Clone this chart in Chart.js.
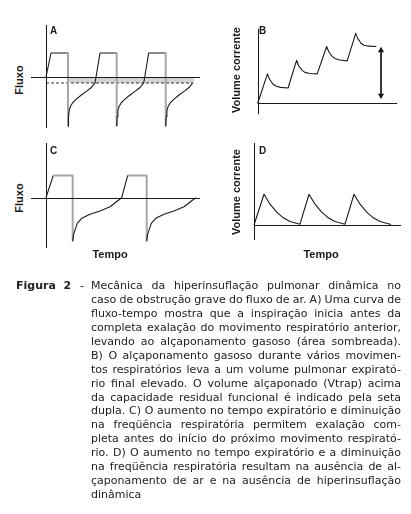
<!DOCTYPE html>
<html>
<head>
<meta charset="utf-8">
<script src="https://cdn.jsdelivr.net/npm/chart.js@4.4.0/dist/chart.umd.min.js"></script>
<style>
  body { margin: 0; background: #fff; }
  #page { position: relative; width: 411px; height: 514px; overflow: hidden; color: #1a1a1a;
          font-family: "Liberation Sans", Arial, sans-serif; }
  canvas { position: absolute; }
  .tag { position: absolute; font-weight: bold; font-size: 10px; line-height: 10px; }
  .ytitle, .xtitle { position: absolute; font-weight: bold; font-size: 11px; white-space: nowrap; }
  .ytitle { transform: translate(-50%, -50%) rotate(-90deg); }
  .xtitle { transform: translate(-50%, -50%); }
  #caption { position: absolute; left: 0; top: 279px; width: 411px;
             font-family: "DejaVu Sans", Verdana, sans-serif; font-size: 11px; line-height: 13.93px; color: #222; }
  #caption .fig { position: absolute; left: 16px; top: 0; font-weight: bold; white-space: pre; }
  #caption .dash { position: absolute; left: 80px; top: 0; }
  #caption .line { margin-left: 91px; width: 310px; white-space: nowrap; text-align: justify; text-align-last: justify; }
  #caption .line.last { text-align-last: left; }
</style>
</head>
<body>
<div id="page">
  <canvas id="chartA" width="172" height="110" style="left:30px;top:22px"></canvas>
  <canvas id="chartB" width="156" height="100" style="left:248px;top:22px"></canvas>
  <canvas id="chartC" width="172" height="112" style="left:30px;top:140px"></canvas>
  <canvas id="chartD" width="156" height="104" style="left:248px;top:140px"></canvas>

  <div class="tag" style="left:50px;top:26px">A</div>
  <div class="tag" style="left:259px;top:26px">B</div>
  <div class="tag" style="left:50px;top:146px">C</div>
  <div class="tag" style="left:259px;top:146px">D</div>

  <div class="ytitle" style="left:19px;top:80px">Fluxo</div>
  <div class="ytitle" style="left:236px;top:70px">Volume corrente</div>
  <div class="ytitle" style="left:19px;top:198px">Fluxo</div>
  <div class="ytitle" style="left:236px;top:192px">Volume corrente</div>
  <div class="xtitle" style="left:110px;top:254px">Tempo</div>
  <div class="xtitle" style="left:321px;top:254px">Tempo</div>

  <div id="caption"></div>
</div>
<script>
// A: flow vs time, breaths start before expiration ends (trapping)
const timeA = [0, 0.5, 2.2, 2.2, 2.25, 2.32, 2.45, 2.65, 3.0, 3.5, 4.1, 4.5, 4.9,
  5.4, 7.07, 7.07, 7.12, 7.19, 7.32, 7.52, 7.87, 8.37, 8.97, 9.37, 9.77,
  10.27, 11.97, 11.97, 12.02, 12.09, 12.22, 12.42, 12.77, 13.27, 13.87, 14.27, 14.67];
const flowA = [0, 1, 1, -2.04, -1.65, -1.4, -1.22, -1.08, -0.93, -0.76, -0.58, -0.45, -0.25,
  1, 1, -2.04, -1.65, -1.4, -1.22, -1.08, -0.93, -0.76, -0.58, -0.45, -0.25,
  1, 1, -2.04, -1.65, -1.4, -1.22, -1.08, -0.93, -0.76, -0.58, -0.45, -0.25];
const endFlowA = { time: [0, 14.7], flow: -0.25 };
const trapA = { time: [2.2, 14.8], flow: -0.25 };

// B: tidal volume climbing breath after breath
const timeB = [0, 1.03, 1.25, 1.6, 1.9, 2.4, 3.2,
  4.1, 4.32, 4.67, 4.97, 5.47, 6.27,
  7.27, 7.49, 7.84, 8.14, 8.64, 9.43,
  10.33, 10.55, 10.9, 11.2, 11.7, 12.5];
const volB = [0, 2.0, 1.63, 1.31, 1.17, 1.08, 1.04,
  2.92, 2.55, 2.25, 2.1, 2.02, 2.0,
  3.86, 3.5, 3.19, 3.04, 2.94, 2.88,
  4.75, 4.39, 4.08, 3.94, 3.88, 3.86];
const vtrapB = { time: 13.0, vol: [3.59, 0.53] };

// C: flow vs time, longer expiration reaches zero
const timeC = [0, 0.73, 2.67, 2.67, 2.75, 2.9, 3.13, 3.57, 4.4, 5.4, 6.4, 7.57,
  8.17, 10.07, 10.07, 10.15, 10.3, 10.53, 10.97, 11.8, 12.8, 13.8, 14.97];
const flowC = [0, 0.93, 0.93, -1.8, -1.55, -1.35, -1.07, -0.86, -0.69, -0.55, -0.375, 0,
  0.93, 0.93, -1.8, -1.55, -1.35, -1.07, -0.86, -0.69, -0.55, -0.375, 0];

// D: tidal volume returning to baseline
const timeD = [0, 1.0, 1.6, 2.27, 2.93, 3.6, 4.6,
  5.5, 6.1, 6.77, 7.43, 8.1, 9.1,
  10.0, 10.6, 11.27, 11.93, 12.6, 13.7];
const volD = [0, 1.92, 1.3, 0.8, 0.45, 0.22, 0.05,
  1.92, 1.3, 0.8, 0.45, 0.22, 0.05,
  1.92, 1.3, 0.8, 0.45, 0.22, 0.03];

const captionLines = [
  'Mecânica da hiperinsuflação pulmonar dinâmica no',
  'caso de obstrução grave do fluxo de ar. A) Uma curva de',
  'fluxo-tempo mostra que a inspiração inicia antes da',
  'completa exalação do movimento respiratório anterior,',
  'levando ao alçaponamento gasoso (área sombreada).',
  'B) O alçaponamento gasoso durante vários movimen-',
  'tos respiratórios leva a um volume pulmonar expirató-',
  'rio final elevado. O volume alçaponado (Vtrap) acima',
  'da capacidade residual funcional é indicado pela seta',
  'dupla. C) O aumento no tempo expiratório e diminuição',
  'na freqüência respiratória permitem exalação com-',
  'pleta antes do início do próximo movimento respirató-',
  'rio. D) O aumento no tempo expiratório e a diminuição',
  'na freqüência respiratória resultam na ausência de al-',
  'çaponamento de ar e na ausência de hiperinsuflação',
  'dinâmica'
];

const ink = '#1a1a1a';
const grey = '#a6a6a6';
const pts = (xs, ys) => xs.map((x, i) => ({ x, y: ys[i] }));
const isDrop = c => c.p0.parsed.x === c.p1.parsed.x;
const isPlateau = c => c.p0.parsed.y === c.p1.parsed.y && c.p0.parsed.y > 0;

// axis lines drawn from the scales
const axesPlugin = {
  id: 'axes',
  afterDatasetsDraw(chart, args, opts) {
    const { ctx, scales: { x, y } } = chart;
    ctx.save();
    ctx.strokeStyle = ink;
    ctx.lineWidth = 1;
    const x0 = Math.round(x.getPixelForValue(0)) + 0.5;
    const y0 = Math.round(y.getPixelForValue(0)) + 0.5;
    ctx.beginPath();
    ctx.moveTo(x0, y.getPixelForValue(opts.y[0]));
    ctx.lineTo(x0, y.getPixelForValue(opts.y[1]));
    ctx.moveTo(x.getPixelForValue(opts.x[0]), y0);
    ctx.lineTo(x.getPixelForValue(opts.x[1]), y0);
    ctx.stroke();
    ctx.restore();
  }
};

function panel(id, xr, yr, axis, datasets) {
  return new Chart(document.getElementById(id), {
    type: 'line',
    data: { datasets },
    options: {
      responsive: false,
      animation: false,
      events: [],
      layout: { padding: 0 },
      elements: { point: { radius: 0 }, line: { tension: 0, borderJoinStyle: 'round' } },
      plugins: { legend: { display: false }, tooltip: { enabled: false }, axes: axis },
      scales: {
        x: { type: 'linear', display: false, min: xr[0], max: xr[1] },
        y: { type: 'linear', display: false, min: yr[0], max: yr[1] }
      }
    },
    plugins: [axesPlugin]
  });
}

panel('chartA', [-1.6, 15.6], [-2.2917, 2.2917], { x: [-1.5, 15.4], y: [-2.125, 2.167] }, [
  {
    data: pts(timeA, flowA), borderColor: ink, borderWidth: 1.1, order: 0,
    segment: {
      borderColor: c => isDrop(c) ? grey : ink,
      borderWidth: c => isDrop(c) ? 2 : 1.1
    }
  },
  {
    data: endFlowA.time.map(x => ({ x, y: endFlowA.flow })),
    borderColor: '#333', borderWidth: 1, borderDash: [3, 2], order: 1
  },
  {
    data: trapA.time.map(x => ({ x, y: trapA.flow })),
    borderWidth: 0, fill: { value: 0 }, backgroundColor: '#d3d3d3', order: 2
  }
]);

panel('chartB', [-0.6, 15.0], [-1.0, 5.25], { x: [0, 14.7], y: [-0.75, 5.06] }, [
  { data: pts(timeB, volB), borderColor: ink, borderWidth: 1.1 },
  {
    data: vtrapB.vol.map(y => ({ x: vtrapB.time, y })),
    borderColor: ink, borderWidth: 1,
    pointStyle: 'triangle', pointRadius: 3.6, pointRotation: [0, 180],
    pointBackgroundColor: ink, pointBorderColor: ink, pointBorderWidth: 0
  }
]);

panel('chartC', [-1.6, 15.6], [-2.2625, 2.404], { x: [-1.5, 15.4], y: [-2.1, 2.28] }, [
  {
    data: pts(timeC, flowC), borderColor: ink, borderWidth: 1.1,
    segment: {
      borderColor: c => (isDrop(c) || isPlateau(c)) ? grey : ink,
      borderWidth: c => (isDrop(c) || isPlateau(c)) ? 2 : 1.1
    }
  }
]);

panel('chartD', [-0.6, 15.0], [-1.1875, 5.3125], { x: [0, 14.7], y: [-0.9375, 5.125] }, [
  { data: pts(timeD, volD), borderColor: ink, borderWidth: 1.1 }
]);

// caption, one justified line per row of the original
const cap = document.getElementById('caption');
cap.innerHTML = '<span class="fig">Figura  2</span><span class="dash">-</span>';
const meter = document.createElement('canvas').getContext('2d');
meter.font = '11px "DejaVu Sans"';
captionLines.forEach((txt, i) => {
  const div = document.createElement('div');
  div.className = 'line' + (i === captionLines.length - 1 ? ' last' : '');
  div.textContent = txt;
  const w = meter.measureText(txt).width;
  const gaps = txt.split(' ').length - 1;
  if (w > 309 && gaps) div.style.wordSpacing = ((309 - w) / gaps) + 'px';
  cap.appendChild(div);
});
</script>
</body>
</html>
